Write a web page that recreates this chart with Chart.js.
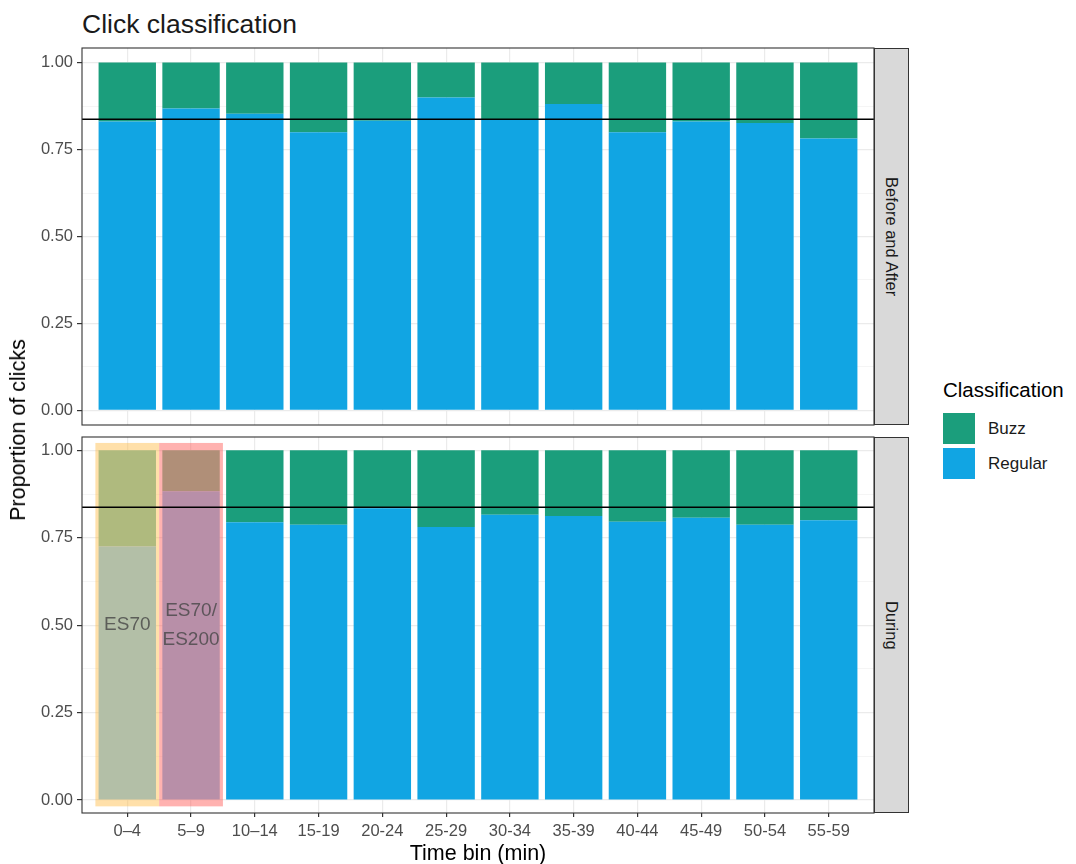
<!DOCTYPE html>
<html>
<head>
<meta charset="utf-8">
<script src="https://cdn.jsdelivr.net/npm/chart.js@4.4.1/dist/chart.umd.min.js"></script>
<style>
  html, body { margin: 0; padding: 0; background: #ffffff; }
  body { font-family: "Liberation Sans", Arial, Helvetica, sans-serif; }
  #wrap { position: relative; width: 1076px; height: 864px; overflow: hidden; background: #fff; }
  .abs { position: absolute; }
  canvas { position: absolute; }
  #title { left: 82px; top: 9px; font-size: 26.5px; line-height: 30px; color: #1a1a1a; white-space: nowrap; }
  #ytitle { left: 18px; top: 430px; font-size: 21.5px; line-height: 24px; color: #000;
            transform: translate(-50%, -50%) rotate(-90deg); white-space: nowrap; }
  #xtitle { left: 478px; top: 853px; font-size: 21.5px; line-height: 24px; color: #000;
            transform: translate(-50%, -50%); white-space: nowrap; }
  .strip { background: #d9d9d9; border: 1px solid #333; box-sizing: border-box;
           display: flex; align-items: center; justify-content: center; }
  .strip span { writing-mode: vertical-rl; font-size: 16.5px; color: #1a1a1a; white-space: nowrap; }
  #legendTitle { left: 943px; top: 378px; font-size: 20.5px; line-height: 24px; color: #000; white-space: nowrap; }
  .key { width: 32px; height: 31px; }
  .keyLabel { font-size: 17px; line-height: 20px; color: #1a1a1a; white-space: nowrap; }
</style>
</head>
<body>
<div id="wrap">
  <div id="title" class="abs">Click classification</div>
  <canvas id="topPanel" width="878" height="385" style="left:0;top:44px;width:878px;height:385px"></canvas>
  <canvas id="bottomPanel" width="878" height="431" style="left:0;top:433px;width:878px;height:431px"></canvas>
  <div class="abs strip" style="left:874px;top:48px;width:35px;height:377px"><span>Before and After</span></div>
  <div class="abs strip" style="left:874px;top:437px;width:35px;height:376px"><span>During</span></div>
  <div id="ytitle" class="abs">Proportion of clicks</div>
  <div id="xtitle" class="abs">Time bin (min)</div>
  <div id="legendTitle" class="abs">Classification</div>
  <div id="legendItems"></div>
</div>
<script>
// ---- data ----
const timeBins = ['0–4', '5–9', '10–14', '15-19', '20-24', '25-29', '30-34', '35-39', '40-44', '45-49', '50-54', '55-59'];

const regularBeforeAfter = [0.831, 0.868, 0.853, 0.800, 0.833, 0.900, 0.835, 0.881, 0.800, 0.831, 0.826, 0.782];
const buzzBeforeAfter    = [0.169, 0.132, 0.147, 0.200, 0.167, 0.100, 0.165, 0.119, 0.200, 0.169, 0.174, 0.218];

const regularDuring = [0.726, 0.883, 0.794, 0.787, 0.834, 0.781, 0.816, 0.812, 0.796, 0.807, 0.787, 0.800];
const buzzDuring    = [0.274, 0.117, 0.206, 0.213, 0.166, 0.219, 0.184, 0.188, 0.204, 0.193, 0.213, 0.200];

// overall share of regular clicks (horizontal reference)
const overallRegular = 0.837;

// echosounder periods shaded in the "During" panel
const sonarBins   = [0, 1];
const sonarLabels = [['ES70'], ['ES70/', 'ES200']];

const yTickValues = [0, 0.25, 0.5, 0.75, 1];
const classNames  = ['Buzz', 'Regular'];

// ---- styling ----
const FONT = '"Liberation Sans", Arial, Helvetica, sans-serif';
const BUZZ = '#1b9e7c';
const REGULAR = '#11a5e3';
const sonarFill = ['rgba(255,186,66,0.45)', 'rgba(255,84,79,0.45)'];
// bar colours seen through each shaded period
const sonarRegular = ['#b3bfa7', '#b88fa8'];
const sonarBuzz    = ['#afba7e', '#b08f78'];

Chart.defaults.font.family = FONT;

// legend
const legendBox = document.getElementById('legendItems');
[BUZZ, REGULAR].forEach((c, i) => {
  const top = 413 + i * 35;
  const k = document.createElement('div');
  k.className = 'abs key';
  k.style.cssText = `left:943px;top:${top}px;background:${c}`;
  legendBox.appendChild(k);
  const t = document.createElement('div');
  t.className = 'abs keyLabel';
  t.style.cssText = `left:988px;top:${top + 6}px`;
  t.textContent = classNames[i];
  legendBox.appendChild(t);
});

// minor grid halfway between the labelled ticks
const yGrid = [];
yTickValues.forEach((v, i) => {
  yGrid.push(v);
  if (i < yTickValues.length - 1) yGrid.push((v + yTickValues[i + 1]) / 2);
});
const isMajor = v => yTickValues.some(t => Math.abs(t - v) < 1e-9);

// keep the plotting area fixed regardless of label overhang
function noOverhang(s) {
  s.paddingTop = 0; s.paddingBottom = 0; s.paddingLeft = 0; s.paddingRight = 0;
}

// panel decorations: shaded periods, their labels, reference line, border
const panelPlugin = {
  id: 'panel',
  beforeDatasetsDraw(chart, args, opts) {
    const { ctx, scales: { x, y } } = chart;
    (opts.bands || []).forEach(b => {
      const x0 = x.getPixelForValue(b.from), x1 = x.getPixelForValue(b.to);
      const y0 = y.getPixelForValue(b.top), y1 = y.getPixelForValue(b.bottom);
      ctx.save();
      ctx.fillStyle = b.color;
      ctx.fillRect(x0, y0, x1 - x0, y1 - y0);
      ctx.restore();
    });
  },
  afterDatasetsDraw(chart, args, opts) {
    const { ctx, chartArea: a, scales: { x, y } } = chart;
    ctx.save();
    (opts.bands || []).forEach(b => {
      const cx = x.getPixelForValue((b.from + b.to) / 2);
      const cy = y.getPixelForValue(0.5);
      ctx.fillStyle = 'rgba(70,70,70,0.8)';
      ctx.font = `19px ${FONT}`;
      ctx.textAlign = 'center';
      ctx.textBaseline = 'middle';
      const lh = 29;
      b.text.forEach((line, i) => {
        ctx.fillText(line, cx, cy + (i - (b.text.length - 1) / 2) * lh);
      });
    });
    const yl = y.getPixelForValue(opts.refLine);
    ctx.strokeStyle = '#000';
    ctx.lineWidth = 1.5;
    ctx.beginPath();
    ctx.moveTo(a.left, yl);
    ctx.lineTo(a.right, yl);
    ctx.stroke();
    ctx.strokeStyle = '#333';
    ctx.lineWidth = 1.1;
    ctx.strokeRect(a.left, a.top, a.right - a.left, a.bottom - a.top);
    ctx.restore();
  }
};

function makePanel(canvasId, regular, buzz, opt) {
  const regColors = regular.map((_, i) => opt.shade && sonarBins.includes(i) ? sonarRegular[sonarBins.indexOf(i)] : REGULAR);
  const buzzColors = buzz.map((_, i) => opt.shade && sonarBins.includes(i) ? sonarBuzz[sonarBins.indexOf(i)] : BUZZ);
  const bands = opt.shade ? sonarBins.map((bin, k) => ({
    from: bin + 0.5, to: bin + 1.5, bottom: -0.018, top: 1.021,
    color: sonarFill[k], text: sonarLabels[k]
  })) : [];

  return new Chart(document.getElementById(canvasId), {
    type: 'bar',
    data: {
      datasets: [
        { label: 'Regular', data: regular.map((v, i) => ({ x: i + 1, y: v })), backgroundColor: regColors,
          borderWidth: 0, barPercentage: 0.9, categoryPercentage: 1 },
        { label: 'Buzz', data: buzz.map((v, i) => ({ x: i + 1, y: v })), backgroundColor: buzzColors,
          borderWidth: 0, barPercentage: 0.9, categoryPercentage: 1 }
      ]
    },
    options: {
      responsive: false,
      animation: false,
      devicePixelRatio: 1,
      layout: { padding: { left: 0, right: 4, top: 4, bottom: opt.showX ? 0 : 4 } },
      plugins: {
        legend: { display: false },
        tooltip: { enabled: false },
        panel: { bands, refLine: overallRegular }
      },
      scales: {
        x: {
          type: 'linear',
          stacked: true,
          min: 0.29, max: 12.71,
          offset: false,
          afterBuildTicks: s => { s.ticks = timeBins.map((_, i) => ({ value: i + 1 })); },
          afterFit: s => { s.height = opt.showX ? 51 : 0; noOverhang(s); },
          border: { display: false },
          grid: { offset: false, color: '#ebebeb', lineWidth: 1.2, drawTicks: opt.showX, tickLength: 4, tickColor: '#333' },
          ticks: {
            display: opt.showX, autoSkip: false, maxRotation: 0, padding: 5,
            color: '#4d4d4d', font: { size: 16.5, family: FONT },
            callback: v => timeBins[Math.round(v) - 1]
          }
        },
        y: {
          stacked: true,
          min: opt.yMin, max: opt.yMax,
          afterBuildTicks: s => { s.ticks = yGrid.map(v => ({ value: v })); },
          afterFit: s => { s.width = 82; noOverhang(s); },
          border: { display: false },
          grid: {
            color: c => (c.tick && isMajor(c.tick.value)) ? '#ebebeb' : '#f3f3f3',
            lineWidth: c => (c.tick && isMajor(c.tick.value)) ? 1.2 : 0.8,
            tickLength: 5,
            tickColor: c => (c.tick && isMajor(c.tick.value)) ? '#333' : 'rgba(0,0,0,0)'
          },
          ticks: {
            padding: 4, color: '#4d4d4d', font: { size: 16.5, family: FONT },
            callback: v => isMajor(v) ? v.toFixed(2) : ''
          }
        }
      }
    },
    plugins: [panelPlugin]
  });
}

makePanel('topPanel', regularBeforeAfter, buzzBeforeAfter, { showX: false, shade: false, yMin: -0.042, yMax: 1.042 });
makePanel('bottomPanel', regularDuring, buzzDuring, { showX: true, shade: true, yMin: -0.037, yMax: 1.038 });
</script>
</body>
</html>
